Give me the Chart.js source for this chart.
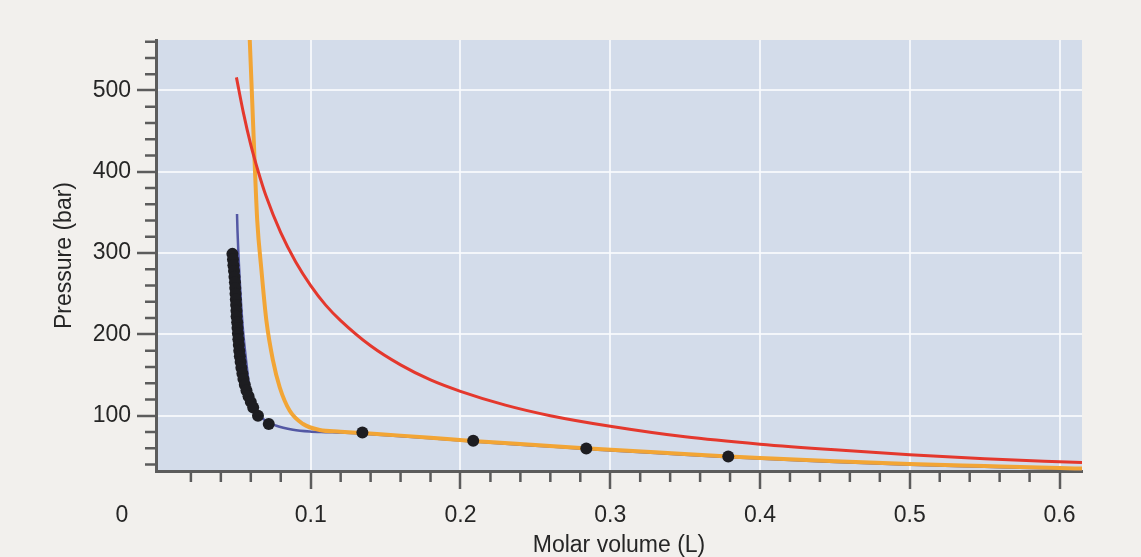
<!DOCTYPE html>
<html>
<head>
<meta charset="utf-8">
<title>Pressure vs molar volume</title>
<script src="https://cdn.jsdelivr.net/npm/chart.js@4.4.1/dist/chart.umd.min.js"></script>
<style>
    html, body { margin: 0; padding: 0; background: #f2f0ed; }
    #pvChart { display: block; }
</style>
</head>
<body>
<canvas id="pvChart" width="1141" height="557"></canvas>
<script>
// values: molar volume (L) and pressure (bar)
const idealV = [0.0504, 0.055, 0.060, 0.065, 0.070, 0.080, 0.090, 0.100, 0.110, 0.120, 0.140, 0.160, 0.180, 0.200, 0.230, 0.260, 0.300, 0.350, 0.400, 0.450, 0.500, 0.550, 0.600, 0.615];
const idealP = [516, 473, 433, 400, 371, 325, 289, 260, 236, 217, 186, 162.5, 144, 130, 113, 100, 87, 74, 65, 58, 52, 47, 43.3, 42.3];

const orangeV = [0.0593, 0.0610, 0.0626, 0.0643, 0.0671, 0.0704, 0.0748, 0.0793, 0.0860, 0.0949, 0.1060, 0.1200, 0.1345, 0.1600, 0.1800, 0.2080, 0.2500, 0.2830, 0.3300, 0.3760, 0.4000, 0.4500, 0.5000, 0.5500, 0.6000, 0.6150];
const orangeP = [562, 484, 410, 340, 279, 217, 168, 135, 106, 89.8, 82.4, 80.4, 78.6, 75.5, 73, 69, 64, 60, 55, 50, 48, 44, 40.5, 38, 35.6, 35];

const blueV = [0.0508, 0.0511, 0.0518, 0.0526, 0.0536, 0.0548, 0.0571, 0.0593, 0.0626, 0.0682, 0.0771, 0.0882, 0.0993, 0.1100, 0.1200, 0.1345, 0.1600, 0.1800, 0.2080, 0.2500, 0.2830, 0.3300, 0.3760, 0.4500, 0.5000, 0.5500, 0.6000, 0.6150];
const blueP = [348, 328, 296, 266.5, 235, 205, 164, 131, 110, 96, 87.7, 82.8, 80.6, 79.8, 79.2, 77.8, 74.7, 72.2, 68.2, 63.2, 59.2, 54.2, 49.2, 43.2, 39.7, 37.2, 34.8, 34.2];

const expV = [0.0477, 0.0481, 0.0484, 0.0488, 0.0491, 0.0494, 0.0496, 0.0498, 0.0500, 0.0502, 0.0504, 0.0505, 0.0509, 0.0511, 0.0514, 0.0517, 0.0520, 0.0523, 0.0527, 0.0532, 0.0537, 0.0544, 0.0551, 0.0560, 0.0571, 0.0585, 0.0600, 0.0616, 0.0648, 0.0720, 0.1345, 0.2085, 0.2840, 0.3788];
const expP = [299, 292, 285, 278, 271, 264, 257, 250, 243, 236, 229, 222, 215, 208, 201, 194, 187, 180, 173, 166, 159, 152, 145, 138, 131, 124, 117, 110, 100, 89.8, 79.4, 69.2, 59.7, 49.8];

const xTickLabels = ['0.1', '0.2', '0.3', '0.4', '0.5', '0.6'];
const yTickLabels = ['100', '200', '300', '400', '500'];
const originLabel = '0';

document.addEventListener('DOMContentLoaded', function() {
    const canvas = document.getElementById('pvChart');
    const ctx = canvas.getContext('2d');

    const fontFamily = "'Liberation Sans', Arial, Helvetica, sans-serif";
    const textColor = '#262626';
    const axisColor = '#5c5c5c';
    const gridColor = 'rgba(248, 250, 253, 0.85)';

    function toPoints(xs, ys) {
        return xs.map(function(v, i) { return { x: v, y: ys[i] }; });
    }

    // plot background, minor ticks and the shared "0" at the corner
    const paperPlugin = {
        id: 'paper',
        beforeDraw(chart) {
            const a = chart.chartArea;
            const c = chart.ctx;
            c.save();
            c.fillStyle = '#d3dcea';
            c.fillRect(a.left, a.top, a.right - a.left, a.bottom - a.top);
            c.restore();
        },
        afterDraw(chart) {
            const a = chart.chartArea;
            const c = chart.ctx;
            const xs = chart.scales.x;
            const ys = chart.scales.y;
            c.save();
            c.strokeStyle = axisColor;
            c.lineWidth = 2.5;
            c.beginPath();
            for (let i = 1; i * 0.02 <= xs.max; i++) {
                if (i % 5 === 0) continue;
                const px = xs.getPixelForValue(i * 0.02);
                c.moveTo(px, a.bottom);
                c.lineTo(px, a.bottom + 11);
            }
            for (let i = 1; i * 20 <= ys.max; i++) {
                const v = i * 20;
                if (v % 100 === 0 || v < ys.min) continue;
                const py = ys.getPixelForValue(v);
                c.moveTo(a.left - 11, py);
                c.lineTo(a.left, py);
            }
            c.stroke();

            c.fillStyle = textColor;
            c.font = '23px ' + fontFamily;
            c.textAlign = 'center';
            c.textBaseline = 'middle';
            c.fillText(originLabel, a.left - 34, a.bottom + 45);
            c.restore();
        }
    };

    new Chart(ctx, {
        type: 'scatter',
        data: {
            datasets: [
                {
                    label: 'Experimental',
                    data: toPoints(expV, expP),
                    backgroundColor: '#1d1d21',
                    borderWidth: 0,
                    pointRadius: 6,
                    showLine: false
                },
                {
                    label: 'Ideal gas',
                    data: toPoints(idealV, idealP),
                    borderColor: '#e4382d',
                    borderWidth: 3,
                    pointRadius: 0,
                    showLine: true,
                    cubicInterpolationMode: 'monotone'
                },
                {
                    label: 'Orange curve',
                    data: toPoints(orangeV, orangeP),
                    borderColor: '#f2a535',
                    borderWidth: 4,
                    pointRadius: 0,
                    showLine: true,
                    cubicInterpolationMode: 'monotone'
                },
                {
                    label: 'Blue curve',
                    data: toPoints(blueV, blueP),
                    borderColor: '#5358a4',
                    borderWidth: 2.5,
                    pointRadius: 0,
                    showLine: true,
                    cubicInterpolationMode: 'monotone'
                }
            ]
        },
        options: {
            responsive: false,
            animation: false,
            devicePixelRatio: 1,
            layout: { padding: { top: 40, right: 59, left: 0, bottom: 0 } },
            plugins: {
                legend: { display: false },
                tooltip: { enabled: false }
            },
            scales: {
                x: {
                    type: 'linear',
                    min: -0.0033,
                    max: 0.615,
                    afterFit: function(scale) { scale.height = 86; },
                    border: { color: axisColor, width: 3 },
                    grid: {
                        color: function(c) { return c.tick && c.tick.value > 0 ? gridColor : 'transparent'; },
                        lineWidth: 2,
                        tickLength: 18,
                        tickWidth: 2.5,
                        tickColor: function(c) { return c.tick && c.tick.value > 0 ? axisColor : 'transparent'; }
                    },
                    ticks: {
                        stepSize: 0.1,
                        includeBounds: false,
                        padding: 15,
                        color: textColor,
                        font: { family: fontFamily, size: 23, lineHeight: 1 },
                        maxRotation: 0,
                        callback: function(value) {
                            const i = Math.round(value * 10) - 1;
                            return i >= 0 && i < xTickLabels.length ? xTickLabels[i] : '';
                        }
                    },
                    title: {
                        display: true,
                        text: 'Molar volume (L)',
                        color: textColor,
                        font: { family: fontFamily, size: 23, lineHeight: 1 },
                        padding: { top: 0, bottom: 0 }
                    }
                },
                y: {
                    type: 'linear',
                    min: 32,
                    max: 562,
                    afterFit: function(scale) { scale.width = 156; },
                    border: { color: axisColor, width: 3 },
                    grid: {
                        color: gridColor,
                        lineWidth: 2,
                        tickLength: 19,
                        tickWidth: 2.5,
                        tickColor: axisColor
                    },
                    ticks: {
                        stepSize: 100,
                        includeBounds: false,
                        padding: 6,
                        color: textColor,
                        font: { family: fontFamily, size: 23, lineHeight: 1 },
                        callback: function(value) {
                            const i = Math.round(value / 100) - 1;
                            return i >= 0 && i < yTickLabels.length ? yTickLabels[i] : '';
                        }
                    },
                    title: {
                        display: true,
                        text: 'Pressure (bar)',
                        color: textColor,
                        font: { family: fontFamily, size: 23, lineHeight: 1 },
                        padding: { top: 53, bottom: 0 }
                    }
                }
            }
        },
        plugins: [paperPlugin]
    });
});
</script>
</body>
</html>
